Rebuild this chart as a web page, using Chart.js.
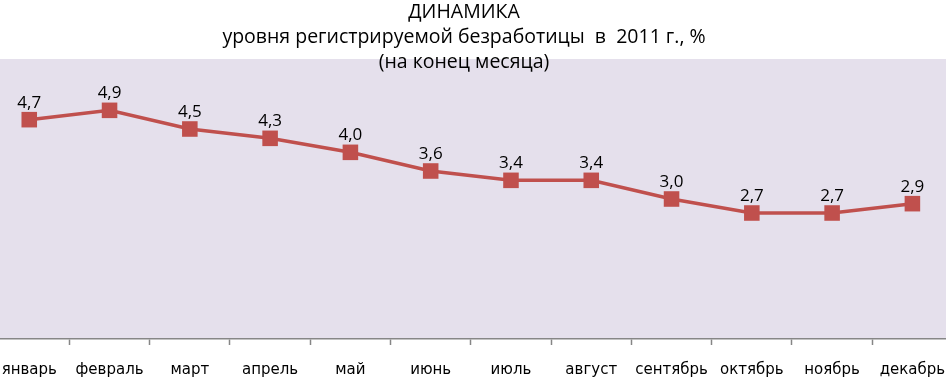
<!DOCTYPE html>
<html>
<head>
<meta charset="utf-8">
<script src="https://cdn.jsdelivr.net/npm/chart.js@4"></script>
<style>
  html, body { margin: 0; padding: 0; background: #fff; overflow: hidden; width: 946px; height: 378px; }
  #rateChart { position: absolute; left: -14px; top: 0; }
</style>
</head>
<body>
<canvas id="rateChart" width="975" height="378"></canvas>
<script>
var months = ["январь", "февраль", "март", "апрель", "май", "июнь", "июль", "август", "сентябрь", "октябрь", "ноябрь", "декабрь"];
var rates = [4.7, 4.9, 4.5, 4.3, 4.0, 3.6, 3.4, 3.4, 3.0, 2.7, 2.7, 2.9];
var titleLines = ["ДИНАМИКА", "уровня регистрируемой безработицы  в  2011 г., %", "(на конец месяца)"];

// lavender plot background
var plotBg = {
  id: 'plotBg',
  beforeDraw: function(chart) {
    var a = chart.chartArea, c = chart.ctx;
    c.save();
    c.fillStyle = "#E5E0EC";
    c.fillRect(a.left, a.top, a.right - a.left, a.bottom - a.top);
    c.restore();
  }
};

// value labels over the points
var valueLabels = {
  id: 'valueLabels',
  afterDatasetsDraw: function(chart) {
    var c = chart.ctx;
    var meta = chart.getDatasetMeta(0);
    c.save();
    c.font = "17px 'Open Sans'";
    c.fillStyle = "#000";
    c.textAlign = "center";
    c.textBaseline = "alphabetic";
    meta.data.forEach(function(p, i) {
      c.fillText(rates[i].toFixed(1).replace(".", ","), p.x, p.y - 12);
    });
    c.restore();
  }
};

var ctx = document.getElementById('rateChart').getContext("2d");

var myChart = new Chart(ctx, {
  type: 'line',
  data: {
    labels: months,
    datasets: [{
      label: "уровень безработицы",
      data: rates,
      borderColor: "#C0504D",
      backgroundColor: "#C0504D",
      borderWidth: 3.5,
      tension: 0,
      fill: false,
      clip: false,
      pointStyle: 'rect',
      pointRadius: 11,
      pointBorderWidth: 0,
      pointBackgroundColor: "#C0504D",
      pointBorderColor: "#C0504D"
    }]
  },
  options: {
    responsive: false,
    animation: false,
    devicePixelRatio: 1,
    layout: { padding: { left: -19, right: 0, top: 0, bottom: -17 }, autoPadding: false },
    plugins: {
      legend: { display: false },
      tooltip: { enabled: false },
      title: {
        display: true,
        text: titleLines,
        color: "#000",
        font: { family: "'Open Sans'", size: 19.5, weight: 'normal', lineHeight: '25px' },
        padding: { top: 0, bottom: -16 }
      }
    },
    scales: {
      x: {
        offset: true,
        border: { display: true, color: "#868686", width: 1.5 },
        grid: {
          offset: true,
          drawOnChartArea: false,
          drawTicks: true,
          tickLength: 6,
          tickColor: "#868686",
          tickWidth: 1.5
        },
        ticks: {
          autoSkip: false,
          maxRotation: 0,
          padding: 16,
          color: "#000",
          font: { family: "'DejaVu Sans'", size: 15 }
        }
      },
      y: {
        display: false,
        min: 0,
        max: 6
      }
    }
  },
  plugins: [plotBg, valueLabels]
});
</script>
</body>
</html>
